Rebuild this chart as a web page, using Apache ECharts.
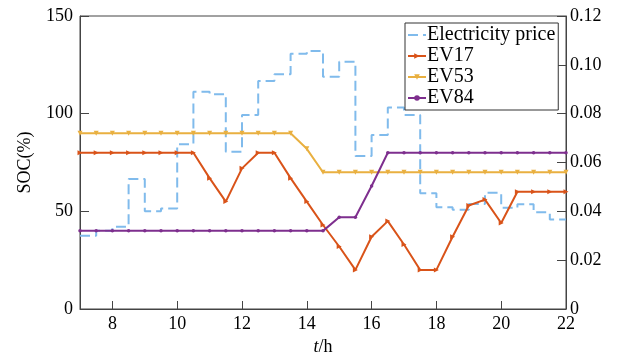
<!DOCTYPE html>
<html>
<head>
<meta charset="utf-8">
<script src="https://cdn.jsdelivr.net/npm/echarts@6/dist/echarts.min.js"></script>
<style>
  html, body { margin: 0; padding: 0; background: #fff; }
  #chart { width: 619px; height: 354px; }
</style>
</head>
<body>
<div id="chart"></div>
<script>
const hours = [7, 7.5, 8, 8.5, 9, 9.5, 10, 10.5, 11, 11.5, 12, 12.5, 13, 13.5, 14, 14.5,
  15, 15.5, 16, 16.5, 17, 17.5, 18, 18.5, 19, 19.5, 20, 20.5, 21, 21.5, 22]

// price of each half hour, last value repeated so the step reaches 22 h
const price = [0.030, 0.032, 0.0337, 0.0532, 0.040, 0.0412, 0.0675, 0.089, 0.088, 0.0644,
  0.0795, 0.0934, 0.0961, 0.1045, 0.1057, 0.0951, 0.1013, 0.0627, 0.0713, 0.0825,
  0.0795, 0.0474, 0.0417, 0.0406, 0.043, 0.0476, 0.0415, 0.0429, 0.0396, 0.0367, 0.0367]

const ev17 = [80, 80, 80, 80, 80, 80, 80, 80, 67, 55, 72, 80, 80, 67, 55, 43,
  32, 20, 37, 45, 33, 20, 20, 37, 53, 56, 44, 60, 60, 60, 60]
const ev53 = [90, 90, 90, 90, 90, 90, 90, 90, 90, 90, 90, 90, 90, 90, 82, 70,
  70, 70, 70, 70, 70, 70, 70, 70, 70, 70, 70, 70, 70, 70, 70]
const ev84 = [40, 40, 40, 40, 40, 40, 40, 40, 40, 40, 40, 40, 40, 40, 40, 40,
  47, 47, 63, 80, 80, 80, 80, 80, 80, 80, 80, 80, 80, 80, 80]

const xTicks = [8, 10, 12, 14, 16, 18, 20, 22]

const font = 'Liberation Serif'
const axisColor = '#444'

const pairs = (vals) => hours.map((h, i) => [h, vals[i]])

const chart = echarts.init(document.getElementById('chart'))
const option = {
  animation: false,
  textStyle: { fontFamily: font, color: '#000' },
  grid: {
    left: 80,
    right: 53,
    top: 16,
    bottom: 45,
    containLabel: false,
    outerBoundsMode: 'none',
    show: true,
    borderColor: axisColor,
    borderWidth: 1
  },
  legend: {
    orient: 'vertical',
    left: 405,
    top: 23,
    padding: [2, 3, 2, 2],
    itemWidth: 18,
    itemHeight: 7,
    itemGap: 1,
    borderColor: '#333',
    borderWidth: 1,
    backgroundColor: '#fff',
    textStyle: { fontFamily: font, fontSize: 20, lineHeight: 20, color: '#000', padding: [0, 0, 0, -4] },
    data: [
      { name: 'Electricity price', itemStyle: { opacity: 0 } },
      'EV17',
      'EV53',
      'EV84'
    ]
  },
  xAxis: {
    type: 'value',
    min: 7,
    max: 22,
    name: '{i|t}/h',
    nameLocation: 'middle',
    nameGap: 27,
    nameTextStyle: {
      fontFamily: font,
      fontSize: 18,
      color: '#000',
      rich: { i: { fontStyle: 'italic', fontFamily: font, fontSize: 18 } }
    },
    axisLine: { show: true, lineStyle: { color: axisColor } },
    axisTick: { show: true, inside: true, length: 8, customValues: xTicks, lineStyle: { color: axisColor } },
    axisLabel: { customValues: xTicks, fontFamily: font, fontSize: 18, color: '#000', margin: 6 },
    splitLine: { show: false }
  },
  yAxis: [
    {
      type: 'value',
      min: 0,
      max: 150,
      interval: 50,
      name: 'SOC(%)',
      nameLocation: 'middle',
      nameGap: 46,
      nameTextStyle: { fontFamily: font, fontSize: 18, color: '#000' },
      axisLine: { show: true, lineStyle: { color: axisColor } },
      axisTick: { show: true, inside: true, length: 9, lineStyle: { color: axisColor } },
      axisLabel: { fontFamily: font, fontSize: 18, color: '#000', margin: 7 },
      splitLine: { show: false }
    },
    {
      type: 'value',
      position: 'right',
      min: 0,
      max: 0.12,
      interval: 0.02,
      axisLine: { show: true, lineStyle: { color: axisColor } },
      axisTick: { show: true, inside: true, length: 9, lineStyle: { color: axisColor } },
      axisLabel: {
        fontFamily: font,
        fontSize: 18,
        color: '#000',
        margin: 4,
        formatter: (v) => (v === 0 ? '0' : v.toFixed(2))
      },
      splitLine: { show: false }
    }
  ],
  series: [
    {
      name: 'Electricity price',
      type: 'line',
      yAxisIndex: 1,
      step: 'end',
      data: pairs(price),
      symbol: 'none',
      itemStyle: { color: '#80BBEC' },
      lineStyle: { color: '#80BBEC', width: 2, type: [10, 5] }
    },
    {
      name: 'EV17',
      type: 'line',
      data: pairs(ev17),
      symbol: 'triangle',
      symbolSize: 5,
      symbolRotate: -90,
      itemStyle: { color: '#D95319' },
      lineStyle: { color: '#D95319', width: 2 }
    },
    {
      name: 'EV53',
      type: 'line',
      data: pairs(ev53),
      symbol: 'triangle',
      symbolSize: 5,
      symbolRotate: 180,
      itemStyle: { color: '#E9B040' },
      lineStyle: { color: '#E9B040', width: 2 }
    },
    {
      name: 'EV84',
      type: 'line',
      data: pairs(ev84),
      symbol: 'circle',
      symbolSize: 3.5,
      itemStyle: { color: '#7E2F8E' },
      lineStyle: { color: '#7E2F8E', width: 2 }
    }
  ]
}
chart.setOption(option)
</script>
</body>
</html>
